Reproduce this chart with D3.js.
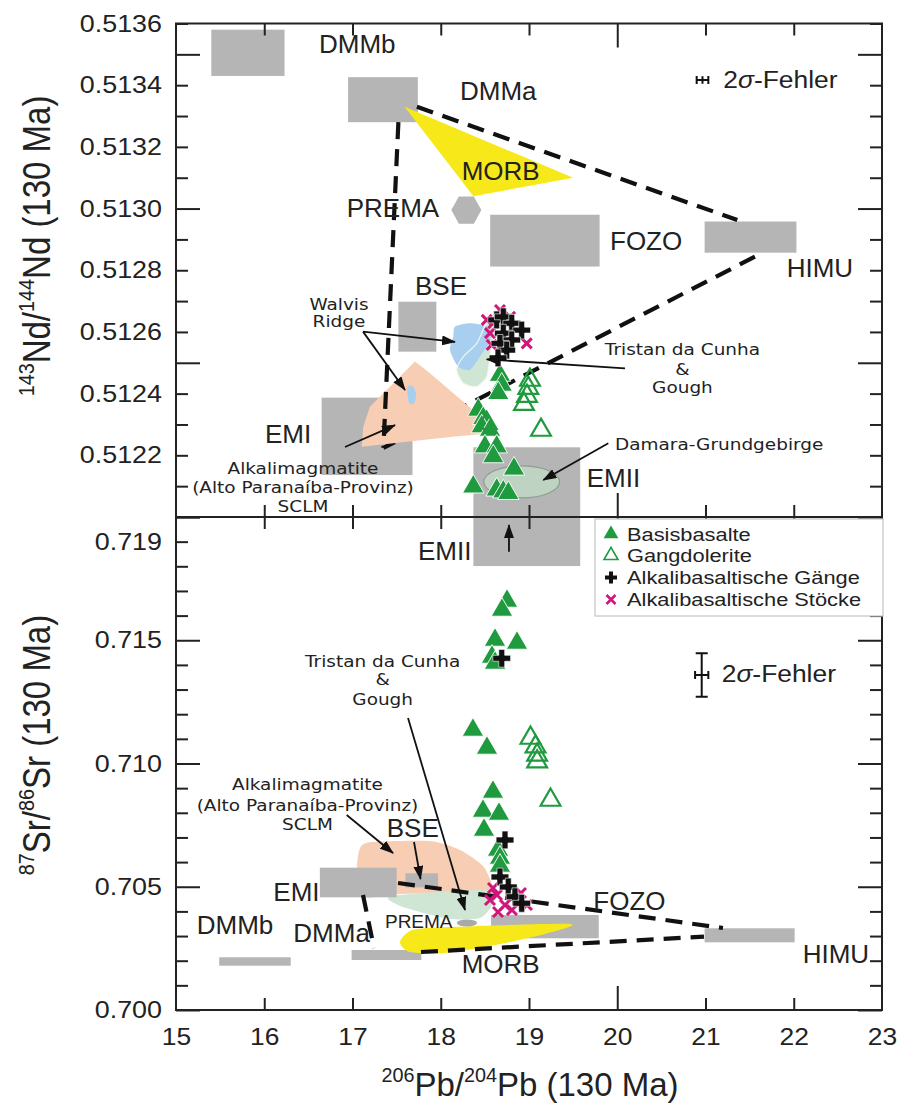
<!DOCTYPE html>
<html><head><meta charset="utf-8">
<script src="https://cdn.jsdelivr.net/npm/d3@7"></script>
<style>
body{margin:0;background:#fff;}
svg{display:block;}
text{font-family:"Liberation Sans",Arial,sans-serif;fill:#222;}
</style></head><body>
<svg id="chart" width="897" height="1104"></svg>
<script>
// ---------------- DATA ----------------
const xTickValues = [15,16,17,18,19,20,21,22,23];
const xTickLabels = ["15","16","17","18","19","20","21","22","23"];
const ndTickLabels = ["0.5122","0.5124","0.5126","0.5128","0.5130","0.5132","0.5134","0.5136"];
const srTickLabels = ["0.700","0.705","0.710","0.715","0.719"];

// Nd panel reservoirs (x0,x1,y0,y1)
const ndFieldNames = ["DMMb","DMMa","FOZO","HIMU","BSE","EMI","EMII"];
const ndFieldX0 = [15.40,16.95,18.56,20.99,17.52,16.65,18.37];
const ndFieldX1 = [16.23,17.74,19.80,22.03,17.95,17.68,19.58];
const ndFieldY0 = [0.51343,0.51328,0.512812,0.512857,0.512536,0.512136,0.51190];
const ndFieldY1 = [0.51358,0.513426,0.51298,0.512958,0.512698,0.512387,0.512226];
// Sr panel reservoirs
const srFieldNames = ["DMMb","DMMa","EMI","BSE","FOZO","HIMU","EMII"];
const srFieldX0 = [15.49,16.99,16.63,17.60,18.57,20.99,18.37];
const srFieldX1 = [16.30,17.78,17.50,17.97,19.79,22.01,19.58];
const srFieldY0 = [0.701797,0.702028,0.704572,0.704976,0.702909,0.702746,0.71801];
const srFieldY1 = [0.702138,0.702434,0.705773,0.705546,0.703854,0.703314,0.72100];

const morbNd = [[17.59,0.51333],[19.50,0.51310],[18.37,0.51304]];
const morbSr = [[17.538,0.702759],[17.674,0.703245],[18.105,0.703367],[19.465,0.703489],[19.181,0.703083],[18.615,0.702637],[18.048,0.702312],[17.652,0.702353]];
const premaNd = {x:18.29, y:0.512995, dx:0.17, dy:0.000044};
const premaSr = {x:18.297, y:0.703529, dx:0.115, dy:0.00014};
const damaraNd = {x:18.917, y:0.512114, dx:0.43, dy:0.000052};
const sclmNd = [[17.708,0.512504],[17.878,0.512466],[18.407,0.512336],[18.539,0.512271],[18.105,0.512259],[17.104,0.512228],[17.122,0.512293],[17.198,0.512358],[17.501,0.512444]];
const sclmSr = [[17.085,0.706572],[17.221,0.706815],[17.878,0.706856],[18.218,0.706491],[18.479,0.705842],[18.581,0.705071],[18.535,0.704665],[18.105,0.704746],[17.538,0.704706],[17.108,0.704584],[17.051,0.705680]];
const walvisNd = [[18.161,0.512617],[18.331,0.512628],[18.521,0.512617],[18.558,0.512574],[18.445,0.512520],[18.331,0.512477],[18.199,0.512487],[18.105,0.512541],[18.142,0.512585]];
const walvisSmallNd = [[17.62,0.51242],[17.68,0.512425],[17.72,0.51240],[17.70,0.51237],[17.64,0.51237]];
const tristanNd = [[18.521,0.512628],[18.595,0.512606],[18.558,0.512520],[18.521,0.512455],[18.407,0.512423],[18.256,0.512434],[18.181,0.512477],[18.256,0.512520],[18.407,0.512563]];
const tristanSr = [[17.448,0.704625],[18.558,0.704868],[18.581,0.704260],[18.445,0.703732],[18.105,0.703692],[17.765,0.703976],[17.516,0.704260]];

const mixNd = [[[17.73,0.51333],[21.36,0.512963]],[[17.52,0.51328],[17.35,0.512224]]];
const mixNdHidden = [[21.56,0.512844],[17.35,0.512224]];
const mixSr = [[[17.516,0.705152],[21.198,0.703327]],[[17.776,0.702353],[20.983,0.702974]],[[17.119,0.704665],[17.244,0.702515]]];

// samples
const basisNd = [[18.671,0.512460],[18.691,0.512428],[18.652,0.512401],[18.425,0.512347],[18.482,0.512320],[18.464,0.512293],[18.558,0.512282],[18.501,0.512228],[18.634,0.512228],[18.595,0.512196],[18.830,0.512156],[18.369,0.512098],[18.634,0.512088],[18.709,0.512082],[18.766,0.512077]];
const gangNd = [[19.011,0.512444],[18.992,0.512418],[18.977,0.512392],[18.943,0.512366],[19.136,0.512282],[18.521,0.512304]];
const gaengeNd = [[18.634,0.512639],[18.709,0.512649],[18.804,0.512628],[18.917,0.512606],[18.709,0.512596],[18.804,0.512574],[18.671,0.512563],[18.747,0.512541],[18.649,0.512516]];
const stoeckeNd = [[18.521,0.512639],[18.595,0.512628],[18.558,0.512596],[18.785,0.512649],[18.974,0.512563],[18.577,0.512558],[18.671,0.512671]];
const basisSr = [[18.751,0.716592],[18.694,0.716227],[18.615,0.715010],[18.864,0.714888],[18.581,0.714320],[18.615,0.714077],[18.365,0.711359],[18.524,0.710629],[18.592,0.708844],[18.479,0.708073],[18.660,0.707951],[18.490,0.707302],[18.649,0.706491],[18.671,0.706166],[18.671,0.705842]];
const gangSr = [[19.017,0.711034],[19.074,0.710682],[19.092,0.710345],[19.092,0.710073],[19.244,0.708519]];
const gaengeSr = [[18.691,0.714268],[18.728,0.706897],[18.671,0.705396],[18.765,0.704990],[18.841,0.704596],[18.917,0.704329]];
const stoeckeSr = [[18.558,0.704462],[18.637,0.704665],[18.728,0.704260],[18.807,0.704057],[18.909,0.704746],[18.977,0.704260],[18.649,0.703976],[18.592,0.704949]];

// 2 sigma error bars: x, y, ex, ey
const errNd = [20.966, 0.513417, 0.066, 0.000012];
const errSr = [20.957, 0.713590, 0.075, 0.00088];

const legendLabels = ["Basisbasalte","Gangdolerite","Alkalibasaltische Gänge","Alkalibasaltische Stöcke"];

// ---------------- LAYOUT ----------------
const svg = d3.select("#chart");
const L=176, R=882, T=23.5, M=517, B=1010;
const x = d3.scaleLinear([15,23],[L,R]);
const yNd = d3.scaleLinear([0.5120,0.5136],[M,T]);
const ySr = d3.scaleLinear([0.700,0.720],[B,M]);

const GRAY="#b5b5b5", GREEN="#1f9a3e", MAG="#d1157b", YEL="#f7e81a", PEACH="#f7cdb4", BLUE="#a8cfef", MINT="#cfe6d5";

const defs = svg.append("defs");
defs.append("clipPath").attr("id","cTop").append("rect").attr("x",L).attr("y",T).attr("width",R-L).attr("height",M-T);
defs.append("clipPath").attr("id","cBot").append("rect").attr("x",L).attr("y",M).attr("width",R-L).attr("height",B-M);
defs.append("marker").attr("id","arr").attr("markerUnits","userSpaceOnUse")
  .attr("markerWidth",14).attr("markerHeight",10).attr("refX",13).attr("refY",5).attr("orient","auto")
  .append("path").attr("d","M0,0 L14,5 L0,10 Z").attr("fill","#111");

function txt(g, px, py, s, o={}) {
  const t = g.append("text")
    .attr("transform",`translate(${px},${py}) scale(${o.sx||1},1)`)
    .attr("text-anchor",o.anchor||"start")
    .style("font-size",(o.size||26)+"px");
  if (o.family) t.style("font-family",o.family);
  t.text(s);
  return t;
}

function panel(clipId, y, fieldX0, fieldX1, fieldY0, fieldY1) {
  const g = svg.append("g").attr("clip-path",`url(#${clipId})`);
  return g;
}

const line = (ys) => d3.line().x(d=>x(d[0])).y(d=>ys(d[1]));
const closed = (ys) => d3.line().x(d=>x(d[0])).y(d=>ys(d[1])).curve(d3.curveCardinalClosed.tension(0.3));

function rects(g, ys, X0, X1, Y0, Y1) {
  g.selectAll(null).data(X0.map((v,i)=>i)).join("rect")
    .attr("x",i=>x(X0[i])).attr("width",i=>x(X1[i])-x(X0[i]))
    .attr("y",i=>ys(Y1[i])).attr("height",i=>ys(Y0[i])-ys(Y1[i]))
    .attr("fill",GRAY);
}
function dashed(g, ys, pts) {
  g.append("path").attr("d",line(ys)(pts)).attr("fill","none")
    .attr("stroke","#111").attr("stroke-width",4.2).attr("stroke-dasharray","17,10");
}
const triSym = d3.symbol().type(d3.symbolTriangle).size(200);
const crossSym = d3.symbol().type(d3.symbolCross).size(175);
function points(g, ys, basis, gang, stoecke, gaenge) {
  g.selectAll(null).data(basis).join("path").attr("d",triSym)
    .attr("transform",d=>`translate(${x(d[0])},${ys(d[1])})`)
    .attr("fill",GREEN).attr("stroke","#fff").attr("stroke-width",0.9);
  g.selectAll(null).data(gang).join("path").attr("d",d3.symbol().type(d3.symbolTriangle).size(170))
    .attr("transform",d=>`translate(${x(d[0])},${ys(d[1])})`)
    .attr("fill","none").attr("stroke",GREEN).attr("stroke-width",2.2);
  g.selectAll(null).data(stoecke).join("path").attr("d","M-5,-5L5,5M-5,5L5,-5")
    .attr("transform",d=>`translate(${x(d[0])},${ys(d[1])})`)
    .attr("fill","none").attr("stroke",MAG).attr("stroke-width",3);
  g.selectAll(null).data(gaenge).join("path").attr("d",crossSym)
    .attr("transform",d=>`translate(${x(d[0])},${ys(d[1])})`)
    .attr("fill","#111").attr("stroke","#fff").attr("stroke-width",0.6);
}
function arrow(g, ys, a, b) {
  g.append("line").attr("x1",x(a[0])).attr("y1",ys(a[1])).attr("x2",x(b[0])).attr("y2",ys(b[1]))
    .attr("stroke","#111").attr("stroke-width",1.8).attr("marker-end","url(#arr)");
}
function block(g, ys, cx, ybs, lines) {
  lines.forEach((s,i)=> txt(g, x(cx), ys(ybs[i]), s, {size:16.5, sx:1.12, anchor:"middle", family:"'DejaVu Sans',sans-serif"}));
}
function errbar(g, ys, e) {
  const cx=x(e[0]), cy=ys(e[1]), x0=x(e[0]-e[2]), x1=x(e[0]+e[2]), y0=ys(e[1]-e[3]), y1=ys(e[1]+e[3]);
  const p = `M${x0},${cy}H${x1}M${x0},${cy-4}V${cy+4}M${x1},${cy-4}V${cy+4}M${cx},${Math.min(y1,cy-3)}V${Math.max(y0,cy+3)}` +
    (y0-y1>10 ? `M${cx-6},${y1}H${cx+6}M${cx-6},${y0}H${cx+6}` : "");
  g.append("path").attr("d",p).attr("stroke","#111").attr("stroke-width",2).attr("fill","none");
}

// ---------- TOP PANEL (Nd) ----------
const gT = svg.append("g").attr("clip-path","url(#cTop)");
rects(gT, yNd, ndFieldX0, ndFieldX1, ndFieldY0, ndFieldY1);
gT.append("path").attr("d",line(yNd)(morbNd)+"Z").attr("fill",YEL);
{
  const p=premaNd;
  const hex=[[p.x-p.dx,p.y],[p.x-p.dx/2,p.y+p.dy],[p.x+p.dx/2,p.y+p.dy],[p.x+p.dx,p.y],[p.x+p.dx/2,p.y-p.dy],[p.x-p.dx/2,p.y-p.dy]];
  gT.append("path").attr("d",line(yNd)(hex)+"Z").attr("fill",GRAY);
  const d=damaraNd;
  gT.append("ellipse").attr("cx",x(d.x)).attr("cy",yNd(d.y)).attr("rx",x(d.x+d.dx)-x(d.x)).attr("ry",yNd(d.y)-yNd(d.y+d.dy))
    .attr("fill","#bfd3c2").attr("stroke","#8f9c92").attr("stroke-width",1.2);
}
gT.append("path").attr("d",closed(yNd)(tristanNd)).attr("fill",MINT);
gT.append("path").attr("d",closed(yNd)(walvisNd)).attr("fill",BLUE);
gT.append("path").attr("d",closed(yNd)(tristanNd)).attr("fill","none").attr("stroke","#eef7f0").attr("stroke-width",1.2);
dashed(gT, yNd, mixNdHidden);
gT.append("path").attr("d",line(yNd).curve(d3.curveLinearClosed)(sclmNd)).attr("fill",PEACH);
gT.append("path").attr("d",closed(yNd)(walvisSmallNd)).attr("fill",BLUE);
mixNd.forEach(l=>dashed(gT, yNd, l));
points(gT, yNd, basisNd, gangNd, stoeckeNd, gaengeNd);

// ---------- BOTTOM PANEL (Sr) ----------
const gB = svg.append("g").attr("clip-path","url(#cBot)");
gB.append("path").attr("d",closed(ySr)(sclmSr)).attr("fill",PEACH);
gB.append("path").attr("d",closed(ySr)(tristanSr)).attr("fill",MINT);
rects(gB, ySr, srFieldX0, srFieldX1, srFieldY0, srFieldY1);
gB.append("path").attr("d",closed(ySr)(morbSr)).attr("fill",YEL);
gB.append("ellipse").attr("cx",x(premaSr.x)).attr("cy",ySr(premaSr.y)).attr("rx",x(premaSr.x+premaSr.dx)-x(premaSr.x))
  .attr("ry",ySr(premaSr.y)-ySr(premaSr.y+premaSr.dy)).attr("fill","#a9a9a9");
mixSr.forEach(l=>dashed(gB, ySr, l));
points(gB, ySr, basisSr, gangSr, stoeckeSr, gaengeSr);

// ---------- ANNOTATIONS ----------
const gA = svg.append("g");
// top labels
const ndLab = [["DMMb",16.620,0.513505],["DMMa",18.218,0.513352],["MORB",18.237,0.513093],["PREMA",16.934,0.512974],
  ["FOZO",19.918,0.512866],["HIMU",21.920,0.512779],["BSE",17.708,0.512720],["EMI",16.008,0.512239],["EMII",19.654,0.512098]];
ndLab.forEach(l=>txt(gA, x(l[1]), yNd(l[2]), l[0], {size:26}));
const srLab = [["EMII",17.742,0.718256],["EMI",16.103,0.704434],["DMMb",15.235,0.703083],["DMMa",16.329,0.702771],["BSE",17.388,0.707030],
  ["FOZO",19.729,0.704057],["MORB",18.237,0.701489],["HIMU",22.101,0.701895]];
srLab.forEach(l=>txt(gA, x(l[1]), ySr(l[2]), l[0], {size:26}));
txt(gA, x(17.368), ySr(0.703327), "PREMA", {size:19});

arrow(gA, yNd, [17.119,0.512601],[18.161,0.512568]);
arrow(gA, yNd, [17.119,0.512601],[17.595,0.512412]);
arrow(gA, yNd, [20.088,0.512482],[18.521,0.512511]);
arrow(gA, yNd, [19.899,0.512239],[19.162,0.512120]);
arrow(gA, yNd, [16.915,0.512227],[17.482,0.512298]);
arrow(gA, ySr, [17.629,0.711846],[18.275,0.704057]);
arrow(gA, ySr, [16.934,0.707911],[17.459,0.706369]);
arrow(gA, ySr, [17.697,0.706815],[17.771,0.705314]);
arrow(gA, ySr, [18.773,0.718593],[18.773,0.719675]);

block(gA, yNd, 16.847, [0.512671,0.512616], ["Walvis","Ridge"]);
block(gA, yNd, 20.739, [0.512525,0.512460,0.512401], ["Tristan da Cunha","&","Gough"]);
txt(gA, x(19.975), yNd(0.512217), "Damara-Grundgebirge", {size:16.5, sx:1.12, family:"'DejaVu Sans',sans-serif"});
block(gA, yNd, 16.439, [0.512139,0.512078,0.512015], ["Alkalimagmatite","(Alto Paranaíba-Provinz)","SCLM"]);
block(gA, ySr, 17.342, [0.713927,0.713185,0.712373], ["Tristan da Cunha","&","Gough"]);
block(gA, ySr, 16.490, [0.708925,0.708093,0.707282], ["Alkalimagmatite","(Alto Paranaíba-Provinz)","SCLM"]);

errbar(gA, yNd, errNd);
errbar(gA, ySr, errSr);
[[yNd,21.202,0.513391],[ySr,21.184,0.713318]].forEach(([ys,a,b])=>{
  const t = txt(gA, x(a), ys(b), "", {size:24, sx:1.1});
  t.append("tspan").text("2");
  t.append("tspan").style("font-style","italic").text("σ");
  t.append("tspan").text("-Fehler");
});

// ---------- AXES ----------
const gX = svg.append("g");
function styleAxis(sel){ sel.select(".domain").remove(); sel.selectAll("line").attr("stroke","#222").attr("stroke-width",2); }
const ndTicks = d3.range(0,17).map(i=>0.5120+i*0.0001);
const srTicks = d3.range(0,21).map(i=>0.700+i*0.001);
const isLongNd = v => Math.round(v*10000)%5===0;
const isLongSr = v => Math.round(v*1000)%5===0;
// left & right ticks
[[yNd,ndTicks,isLongNd],[ySr,srTicks,isLongSr]].forEach(([ys,tv,lf])=>{
  gX.append("g").attr("transform",`translate(${L},0)`).call(d3.axisRight(ys).tickValues(tv.filter(v=>!lf(v))).tickSize(12).tickFormat("")).call(styleAxis);
  gX.append("g").attr("transform",`translate(${L},0)`).call(d3.axisRight(ys).tickValues(tv.filter(lf)).tickSize(24).tickFormat("")).call(styleAxis);
  gX.append("g").attr("transform",`translate(${R},0)`).call(d3.axisLeft(ys).tickValues(tv.filter(v=>!lf(v))).tickSize(12).tickFormat("")).call(styleAxis);
  gX.append("g").attr("transform",`translate(${R},0)`).call(d3.axisLeft(ys).tickValues(tv.filter(lf)).tickSize(24).tickFormat("")).call(styleAxis);
});
// x ticks
const xs = xTickValues.slice(1,-1);
[[T,"b"],[M,"t"],[M,"b"],[B,"t"]].forEach(([yy,dir])=>{
  const mk = dir==="t" ? d3.axisTop : d3.axisBottom;
  gX.append("g").attr("transform",`translate(0,${yy})`).call(mk(x).tickValues(xs.filter(v=>v!==20)).tickSize(12).tickFormat("")).call(styleAxis);
  gX.append("g").attr("transform",`translate(0,${yy})`).call(mk(x).tickValues([20]).tickSize(24).tickFormat("")).call(styleAxis);
});
// tick labels
const labNd = gX.append("g").attr("transform",`translate(${L},0)`)
  .call(d3.axisLeft(yNd).tickValues(ndTickLabels.map(Number)).tickSize(0).tickPadding(14).tickFormat((d,i)=>ndTickLabels[i]));
const labSr = gX.append("g").attr("transform",`translate(${L},0)`)
  .call(d3.axisLeft(ySr).tickValues(srTickLabels.map(Number)).tickSize(0).tickPadding(14).tickFormat((d,i)=>srTickLabels[i]));
const labX = gX.append("g").attr("transform",`translate(0,${B})`)
  .call(d3.axisBottom(x).tickValues(xTickValues).tickSize(0).tickPadding(18).tickFormat((d,i)=>xTickLabels[i]));
[labNd,labSr,labX].forEach(a=>{
  a.select(".domain").remove();
  a.selectAll("text").style("font-size","24px").style("font-family","'Liberation Sans',Arial,sans-serif").attr("fill","#222");
});
labNd.selectAll("text").attr("transform","scale(1.12,1)").attr("x",-12.5);
labSr.selectAll("text").attr("transform","scale(1.12,1)").attr("x",-12.5);
labX.selectAll("text").attr("transform","scale(1.1,1)");

// frame
svg.append("rect").attr("x",L).attr("y",T).attr("width",R-L).attr("height",B-T).attr("fill","none").attr("stroke","#222").attr("stroke-width",2);
svg.append("line").attr("x1",L).attr("x2",R).attr("y1",M).attr("y2",M).attr("stroke","#222").attr("stroke-width",2);

// legend
const lg = svg.append("g");
lg.append("rect").attr("x",595).attr("y",519).attr("width",288).attr("height",97).attr("fill","#fff").attr("stroke","#c4c4c4").attr("stroke-width",1.2);
const legY = [534,555.5,577.5,599.5];
lg.append("path").attr("d",d3.symbol().type(d3.symbolTriangle).size(95)).attr("transform",`translate(611,${legY[0]})`).attr("fill",GREEN);
lg.append("path").attr("d",d3.symbol().type(d3.symbolTriangle).size(85)).attr("transform",`translate(611,${legY[1]})`).attr("fill","none").attr("stroke",GREEN).attr("stroke-width",1.6);
lg.append("path").attr("d",d3.symbol().type(d3.symbolCross).size(80)).attr("transform",`translate(611,${legY[2]})`).attr("fill","#111");
lg.append("path").attr("d","M-4.5,-4.5L4.5,4.5M-4.5,4.5L4.5,-4.5").attr("transform",`translate(611,${legY[3]})`).attr("stroke",MAG).attr("stroke-width",2.6);
legendLabels.forEach((s,i)=>txt(lg, 627, legY[i]+6.8, s, {size:18.5, sx:1.18}));

// axis titles
function supTitle(g, parts, size) {
  parts.forEach(p=>{
    const ts = g.append("tspan").text(p[0]);
    if (p[1]) ts.style("font-size",(size*0.6)+"px").attr("dy",-size*0.42);
    else if (p[2]) ts.attr("dy",size*0.42);
  });
}
const tx = svg.append("text").attr("transform",`translate(530,1096)`).attr("text-anchor","middle").style("font-size","33px");
supTitle(tx, [["206",1],["Pb/",0,1],["204",1],["Pb (130 Ma)",0,1]], 33);
const ty1 = svg.append("text").attr("transform",`translate(50,246) rotate(-90) scale(1,1.16)`).attr("text-anchor","middle").style("font-size","33px");
supTitle(ty1, [["143",1],["Nd/",0,1],["144",1],["Nd (130 Ma)",0,1]], 33);
const ty2 = svg.append("text").attr("transform",`translate(50,745) rotate(-90) scale(1,1.16)`).attr("text-anchor","middle").style("font-size","33px");
supTitle(ty2, [["87",1],["Sr/",0,1],["86",1],["Sr (130 Ma)",0,1]], 33);
</script>
</body></html>
